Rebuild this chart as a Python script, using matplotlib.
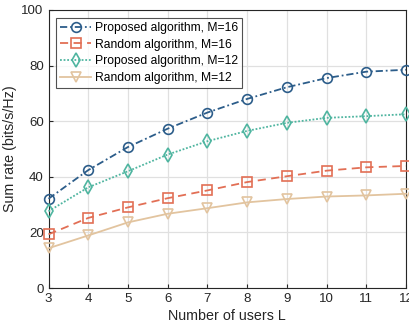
import matplotlib.pyplot as plt

plt.rcParams['font.family'] = ['Liberation Sans', 'DejaVu Sans']

users = [3, 4, 5, 6, 7, 8, 9, 10, 11, 12]
proposed_m16 = [32.1, 42.4, 50.7, 57.3, 63.1, 68.0, 72.2, 75.5, 77.8, 78.5]
random_m16 = [19.3, 25.2, 29.0, 32.3, 35.1, 38.1, 40.2, 42.2, 43.4, 43.9]
proposed_m12 = [27.6, 36.2, 42.0, 48.0, 52.8, 56.5, 59.4, 61.2, 61.8, 62.5]
random_m12 = [14.3, 18.9, 23.6, 26.7, 28.7, 30.8, 32.0, 32.9, 33.3, 33.9]

fig = plt.figure(figsize=(4.09, 3.32), dpi=100)
ax = fig.add_axes([0.1186, 0.1325, 0.874, 0.8375])

kw = dict(markersize=7, markerfacecolor='none', markeredgewidth=1.2, linewidth=1.3, clip_on=False, zorder=3)
ax.plot(users, proposed_m16, linestyle=(0, (4, 1.6, 1, 1.6)), marker='o', color='#2c5d8a',
        label='Proposed algorithm, M=16', **kw)
ax.plot(users, random_m16, linestyle=(0, (4.5, 3)), marker='s', color='#e26f55',
        label='Random algorithm, M=16', **kw)
ax.plot(users, proposed_m12, linestyle=(0, (1, 1)), marker='d', color='#4fb5a0',
        label='Proposed algorithm, M=12', **{**kw, 'markersize': 7.5})
ax.plot(users, random_m12, linestyle='-', marker='v', color='#e2c49f', label='Random algorithm, M=12', **kw)

ax.set_xlim(3, 12)
ax.set_ylim(0, 100)
ax.set_xticks(users)
ax.set_yticks(range(0, 101, 20))
ax.tick_params(direction='in', labelsize=9.5, length=3, colors='#262626', top=False, right=False)
ax.grid(True, color='#e0e0e0', linewidth=0.9)
ax.set_axisbelow(True)
for s in ax.spines.values():
    s.set_color('#262626')
    s.set_linewidth(0.8)

ax.set_xlabel('Number of users L', fontsize=10.3, color='#262626', labelpad=3)
ax.set_ylabel('Sum rate (bits/s/Hz)', fontsize=10.3, color='#262626', labelpad=3)

leg = ax.legend(loc='upper left', bbox_to_anchor=(0.01, 0.985), fontsize=8.7, frameon=True, fancybox=False,
                handlelength=2.6, handletextpad=0.3, borderpad=0.35, labelspacing=0.38, borderaxespad=0.3)
leg.get_frame().set_edgecolor('#262626')
leg.get_frame().set_linewidth(0.8)

fig.savefig('out.png', dpi=100)
